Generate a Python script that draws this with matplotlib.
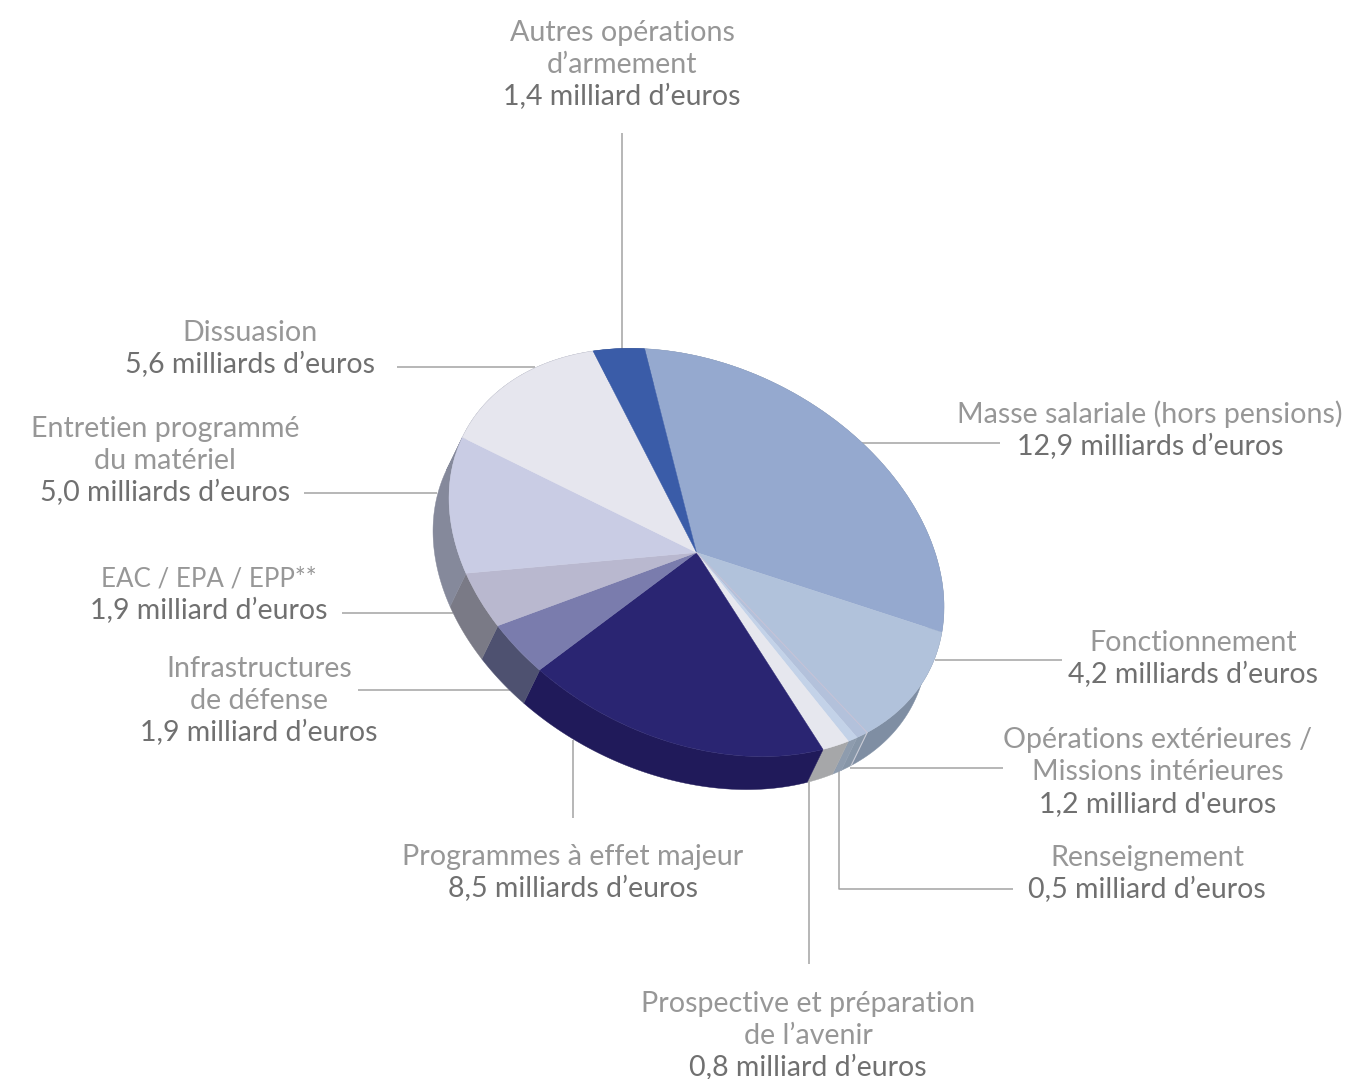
import numpy as np
import matplotlib
matplotlib.use('Agg')
import matplotlib.pyplot as plt
from matplotlib.transforms import Affine2D
from matplotlib.patches import Polygon

plt.rcParams['font.family'] = ['Lato', 'DejaVu Sans']

# labels and amounts printed on the chart (milliards d'euros)
names = [
    'Masse salariale (hors pensions)', 'Fonctionnement',
    'Opérations extérieures /\nMissions intérieures', 'Renseignement',
    'Prospective et préparation\nde l’avenir', 'Programmes à effet majeur',
    'Infrastructures\nde défense', 'EAC / EPA / EPP**',
    'Entretien programmé\ndu matériel', 'Dissuasion',
    'Autres opérations\nd’armement',
]
amounts = [12.9, 4.2, 1.2, 0.5, 0.8, 8.5, 1.9, 1.9, 5.0, 5.6, 1.4]
units = [
    'milliards d’euros', 'milliards d’euros', "milliard d'euros",
    'milliard d’euros', 'milliard d’euros', 'milliards d’euros',
    'milliard d’euros', 'milliard d’euros', 'milliards d’euros',
    'milliards d’euros', 'milliard d’euros',
]
# sweep of each slice as drawn in the picture, degrees around the disc
sweeps = [109.6, 38.9, 3.1, 2.6, 7.1, 70.1, 14.1, 15.2, 40.2, 46.4, 12.6]

top_colors = ['#95a9cf', '#b1c2db', '#b3c1db', '#c3d2e8', '#e6e7ee', '#2a2572',
              '#7a7cad', '#b9b8cf', '#c9cce4', '#e6e6ee', '#3a5ca8']
side_colors = ['#7f8ea3', '#7f8ea3', '#8796a8', '#8e9cae', '#a6a7a9', '#201a5a',
               '#4e5170', '#7a7a86', '#85899b', '#85899b', '#2c4680']

# disc geometry in pixels
cx, cy = 696.5, 552.5
semi_a, semi_b, tilt = 261, 186.5, 27
depth = (-16, 33)
start = -122.1

fig = plt.figure(figsize=(13.45, 10.79), dpi=100)
ax = fig.add_axes([0, 0, 1, 1])

# leader lines, under the pie
leaders = [
    [(860, 443), (1000, 443)],
    [(935, 660), (1062, 660)],
    [(850, 768), (1003, 768)],
    [(839, 770), (839, 889), (1013, 889)],
    [(809, 782), (809, 964)],
    [(573, 740), (573, 818)],
    [(510, 690), (358, 690)],
    [(453, 613), (342, 613)],
    [(437, 493), (304, 493)],
    [(535, 367), (397, 367)],
    [(622, 350), (622, 133)],
]
for pts in leaders:
    xs, ys = zip(*pts)
    ax.plot(xs, ys, color='#a3a3a3', lw=1.1, zorder=1, solid_capstyle='butt')

disc = Affine2D().scale(semi_a, semi_b).rotate_deg(tilt).translate(cx, cy)

# extruded side of every slice
edges = start + np.concatenate([[0], np.cumsum(sweeps)])
for i, col in enumerate(side_colors):
    phi = np.radians(np.linspace(edges[i], edges[i + 1], 60))
    rim = disc.transform(np.column_stack([np.cos(phi), np.sin(phi)]))
    poly = np.vstack([rim, (rim + depth)[::-1]])
    ax.add_patch(Polygon(poly, closed=True, facecolor=col, edgecolor=col, lw=0.3, zorder=2))

# top of the pie
wedges, _ = ax.pie(sweeps, colors=top_colors, startangle=start, radius=1,
                   wedgeprops=dict(linewidth=0.3))
for w, col in zip(wedges, top_colors):
    w.set_edgecolor(col)
    w.set_transform(disc + ax.transData)
    w.set_zorder(3)

# pale seam between Fonctionnement and the small slices
seam = np.radians(edges[2])
tip = disc.transform([[np.cos(seam), np.sin(seam)]])[0]
ax.plot([cx, tip[0]], [cy, tip[1]], color='#c6c2d6', lw=0.7, zorder=4)
ax.plot([tip[0], tip[0] + depth[0]], [tip[1], tip[1] + depth[1]], color='#c9cbd6', lw=0.8, zorder=4)

ax.set_xlim(0, 1345)
ax.set_ylim(1079, 0)
ax.set_aspect('auto')
ax.axis('off')

# label centre x and first baseline
label_pos = [(1150, 423), (1193, 651), (1158, 748), (1147, 866), (808, 1012),
             (573, 865), (259, 677), (209, 587), (165, 437), (250, 341), (622, 41)]
# capitals run wide in Lato, so the acronym line is set a bit smaller
name_sizes = [20.6, 20.6, 20.6, 20.6, 20.6, 20.6, 20.6, 18.6, 20.6, 20.6, 20.6]
line_h = 32

for name, amount, unit, size, (lx, ly) in zip(names, amounts, units, name_sizes, label_pos):
    lines = name.split('\n')
    for k, line in enumerate(lines):
        ax.text(lx, ly + k * line_h, line, ha='center', va='baseline',
                fontsize=size, color='#979797', zorder=5)
    value = f'{amount:.1f}'.replace('.', ',') + ' ' + unit
    ax.text(lx, ly + len(lines) * line_h, value, ha='center', va='baseline',
            fontsize=20.5, color='#707070', zorder=5)

fig.savefig('out.png', dpi=100)
